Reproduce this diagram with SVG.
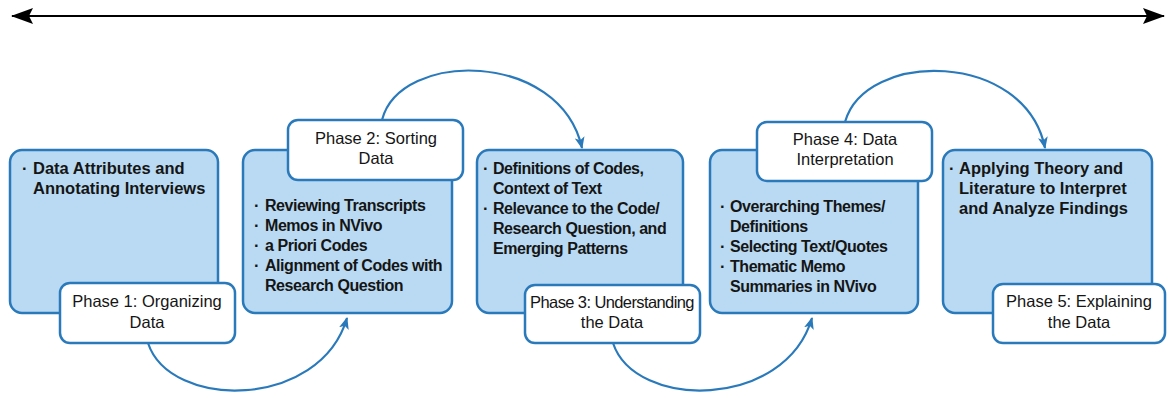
<svg xmlns="http://www.w3.org/2000/svg" width="1167" height="394" viewBox="0 0 1167 394">
<style>
.box{fill:#b9daf2;stroke:#2a7abb;stroke-width:2.5}
.lbl{fill:#ffffff;stroke:#2a7abb;stroke-width:2.5}
.bt{font-family:"Liberation Sans",Arial,sans-serif;font-size:16.5px;font-weight:bold;fill:#151515}
.nar{font-size:16px;letter-spacing:-0.45px}
.lt{font-family:"Liberation Sans",Arial,sans-serif;font-size:16.5px;fill:#151515;text-anchor:middle}
.arc{fill:none;stroke:#2a7abb;stroke-width:2.2}
</style>
<defs>
<marker id="ah" viewBox="0 0 12 10" refX="11" refY="5" markerWidth="12" markerHeight="10" markerUnits="userSpaceOnUse" orient="auto">
<path d="M0,0 L12,5 L0,10 L3,5 Z" fill="#2a7abb"/>
</marker>
<marker id="bk" viewBox="0 0 22 16" refX="21" refY="8" markerWidth="22" markerHeight="16" markerUnits="userSpaceOnUse" orient="auto-start-reverse">
<path d="M0,0 L22,8 L0,16 L4,8 Z" fill="#000"/>
</marker>
</defs>
<g id="timeline">
<line x1="12" y1="16" x2="1164" y2="16" stroke="#000" stroke-width="2.2" marker-start="url(#bk)" marker-end="url(#bk)"/>
</g>
<g id="phase1">
<rect class="box" x="10" y="150" width="208" height="163" rx="12"/>
<text class="bt" x="22" y="174">·</text>
<text class="bt" x="33" y="174">Data Attributes and</text>
<text class="bt" x="33" y="194">Annotating Interviews</text>
<rect class="lbl" x="60" y="283" width="175" height="60" rx="10"/>
<text class="lt" x="147" y="307">Phase 1: Organizing</text>
<text class="lt" x="147" y="328">Data</text>
</g>
<g id="phase2">
<rect class="box" x="243" y="150" width="209" height="163" rx="12"/>
<text class="bt"><tspan x="254" y="211">·</tspan><tspan x="254" y="231">·</tspan><tspan x="254" y="251">·</tspan><tspan x="254" y="271">·</tspan></text>
<text class="bt nar"><tspan x="265" y="211">Reviewing Transcripts</tspan><tspan x="265" y="231">Memos in NVivo</tspan><tspan x="265" y="251">a Priori Codes</tspan><tspan x="265" y="271">Alignment of Codes with</tspan><tspan x="265" y="291">Research Question</tspan></text>
<rect class="lbl" x="288" y="120" width="175" height="60" rx="10"/>
<text class="lt" x="376" y="144">Phase 2: Sorting</text>
<text class="lt" x="376" y="164">Data</text>
</g>
<g id="phase3">
<rect class="box" x="477" y="150" width="206" height="163" rx="12"/>
<text class="bt"><tspan x="483" y="174">·</tspan><tspan x="483" y="214">·</tspan></text>
<text class="bt nar"><tspan x="493" y="174">Definitions of Codes,</tspan><tspan x="493" y="194">Context of Text</tspan><tspan x="493" y="214">Relevance to the Code/</tspan><tspan x="493" y="234">Research Question, and</tspan><tspan x="493" y="254">Emerging Patterns</tspan></text>
<rect class="lbl" x="525" y="285" width="175" height="58" rx="10"/>
<text class="lt" x="612" y="308" letter-spacing="-0.6">Phase 3: Understanding</text>
<text class="lt" x="612" y="328">the Data</text>
</g>
<g id="phase4">
<rect class="box" x="710" y="150" width="208" height="163" rx="12"/>
<text class="bt"><tspan x="720" y="212">·</tspan><tspan x="720" y="252">·</tspan><tspan x="720" y="272">·</tspan></text>
<text class="bt nar"><tspan x="730" y="212">Overarching Themes/</tspan><tspan x="730" y="232">Definitions</tspan><tspan x="730" y="252">Selecting Text/Quotes</tspan><tspan x="730" y="272">Thematic Memo</tspan><tspan x="730" y="292">Summaries in NVivo</tspan></text>
<rect class="lbl" x="757" y="122" width="175" height="59" rx="10"/>
<text class="lt" x="845" y="145">Phase 4: Data</text>
<text class="lt" x="845" y="165">Interpretation</text>
</g>
<g id="phase5">
<rect class="box" x="943" y="150" width="209" height="163" rx="12"/>
<text class="bt" x="949" y="174">·</text>
<text class="bt"><tspan x="959" y="174">Applying Theory and</tspan><tspan x="959" y="194">Literature to Interpret</tspan><tspan x="959" y="214">and Analyze Findings</tspan></text>
<rect class="lbl" x="993" y="284" width="172" height="59" rx="10"/>
<text class="lt" x="1079" y="307">Phase 5: Explaining</text>
<text class="lt" x="1079" y="328">the Data</text>
</g>
<g id="connectors">
<path class="arc" d="M148,343 C170,410 320,410 347,318" marker-end="url(#ah)"/>
<path class="arc" d="M382,120 C400,50 560,50 582,148" marker-end="url(#ah)"/>
<path class="arc" d="M613,343 C635,410 785,410 812,318" marker-end="url(#ah)"/>
<path class="arc" d="M845,122 C865,50 1025,50 1045,148" marker-end="url(#ah)"/>
</g>
</svg>
